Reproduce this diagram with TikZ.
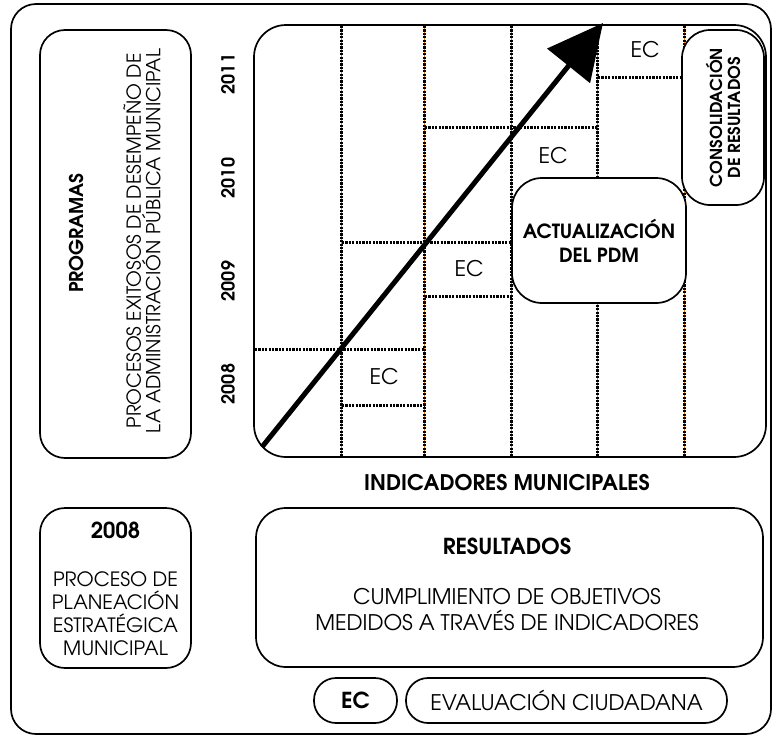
\documentclass[tikz,border=0pt]{standalone}
\usepackage{fontspec}
\setmainfont{TeX Gyre Adventor}
\usepackage{tikz}
\usetikzlibrary{
    arrows.meta,
    calc,
    positioning
}

\begin{document}
\begin{tikzpicture}[x=1pt, y=-1pt,
    box/.style={draw, line width=1.7pt, fill=white, rounded corners=25pt, align=center, inner sep=0pt},
    vline/.style={line width=3pt, dash pattern=on 2.2pt off 1.2pt,
        preaction={draw, solid, line width=0.8pt, orange!90!black}},
    hline/.style={line width=3pt, dash pattern=on 2.2pt off 1.2pt},
    txt/.style={font=\fontsize{21.5}{26}\selectfont, align=center, inner sep=0pt},
    bold/.style={font=\fontsize{21.5}{26}\selectfont\bfseries, align=center, inner sep=0pt}
]
    \useasboundingbox (0, 0) rectangle (777, 737);
    \node[box, minimum width=760pt, minimum height=730pt] (frame) at (391, 369) {};
    \node[box, rounded corners=32pt, minimum width=512pt, minimum height=432pt] (chart) at (510, 241) {};
    \foreach \x in {341.5, 424.5, 511.5, 597.5, 684.5}
        \draw[vline] (\x, 26) -- (\x, 456);
    \draw[hline]
        (255, 349.5) -- (425, 349.5)
        (342, 405.5) -- (425, 405.5)
        (342, 242.5) -- (512, 242.5)
        (425, 296.5) -- (512, 296.5)
        (425, 127.5) -- (598, 127.5)
        (598, 77.5) -- (682, 77.5);
    \node[txt] (ec1) at (384, 377) {EC};
    \node[txt] (ec2) at (469, 269) {EC};
    \node[txt] (ec3) at (553, 156) {EC};
    \node[txt] (ec4) at (645, 50) {EC};
    \node[box, rounded corners=30pt, minimum width=174pt, minimum height=125pt, bold, font=\fontsize{19.5}{24}\selectfont\bfseries] (act) at (599, 240.5) {ACTUALIZACIÓN\\DEL PDM};
    \node[box, rounded corners=28pt, rotate=90, minimum width=175pt, minimum height=82pt, bold, font=\fontsize{16.5}{18}\selectfont\bfseries] (cons) at (723, 117.5) {CONSOLIDACIÓN\\DE RESULTADOS};
    \coordinate (arrS) at (262, 447);
    \coordinate (arrE) at (603, 23);
    \draw[line width=5pt, -{Triangle[length=55pt, width=54pt]}] (arrS) -- (arrE);
    % years
    \foreach \y/\yr in {74/2011, 178/2010, 281/2009, 384/2008}
        \node[bold, rotate=90, font=\fontsize{18}{18}\selectfont\bfseries] (y\yr) at (228, \y) {\yr};
    \node[bold] (indic) at (507, 483) {INDICADORES MUNICIPALES};
    % left boxes
    \node[box, minimum width=151pt, minimum height=428pt] (prog) at (115.5, 244) {};
    \node[bold, rotate=90, font=\fontsize{19}{19}\selectfont\bfseries] (progt) at (76, 233) {PROGRAMAS};
    \node[txt, rotate=90, font=\fontsize{19.3}{18}\selectfont] (progd) at (142, 241) {PROCESOS EXITOSOS DE DESEMPEÑO DE\\LA ADMINISTRACIÓN PÚBLICA MUNICIPAL};
    \node[box, minimum width=151pt, minimum height=160pt] (plan) at (115.5, 588) {};
    \node[bold, font=\fontsize{22}{22}\selectfont\bfseries] (plany) at (115.5, 530) {2008};
    \node[txt, font=\fontsize{19.7}{23}\selectfont] (plant) at (115.5, 614) {PROCESO DE\\PLANEACIÓN\\ESTRATÉGICA\\MUNICIPAL};
    % resultados
    \node[box, rounded corners=30pt, minimum width=507pt, minimum height=159pt] (res) at (509.5, 587.5) {};
    \node[bold, font=\fontsize{22}{22}\selectfont\bfseries] (rest) at (507, 546) {RESULTADOS};
    \node[txt] (resd) at (507, 610) {CUMPLIMIENTO DE OBJETIVOS\\MEDIDOS A TRAVÉS DE INDICADORES};
    \node[box, rounded corners=22pt, minimum width=83pt, minimum height=45pt, bold, font=\fontsize{22}{22}\selectfont\bfseries] (ecb) at (355.5, 700.5) {EC};
    \node[box, rounded corners=22pt, minimum width=321pt, minimum height=45pt, txt] (evalb) at (566.5, 700.5) {EVALUACIÓN CIUDADANA};
\end{tikzpicture}
\end{document}
